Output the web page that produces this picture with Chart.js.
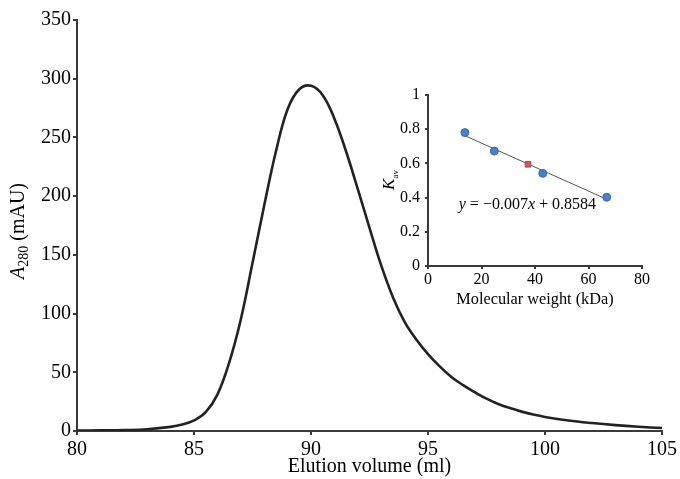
<!DOCTYPE html>
<html lang="en">
<head>
  <meta charset="UTF-8">
  <title>Elution profile</title>
  <script src="https://cdn.jsdelivr.net/npm/chart.js"></script>
  <style>
    body { margin: 0; background: #fff; }
    #wrap { position: relative; width: 680px; height: 479px; }
    #mainChart { position: absolute; left: 0; top: 0; }
    #insetChart { position: absolute; left: 380px; top: 80px; }
  </style>
</head>
<body>
  <div id="wrap">
    <canvas id="mainChart" width="680" height="479"></canvas>
    <canvas id="insetChart" width="290" height="230"></canvas>
  </div>
  <script>
    // elution curve
    const elutionVolume = [80, 81, 82, 83, 84, 84.5, 85, 85.5, 86, 86.5, 87, 87.5, 88, 88.5, 89, 89.5, 90,
      90.5, 91, 91.5, 92, 92.5, 93, 93.5, 94, 94.5, 95, 95.5, 96, 96.5, 97, 97.5, 98, 98.5, 99, 99.5,
      100, 101, 102, 103, 104, 105];
    const absorbance = [0.3, 0.5, 0.8, 1.5, 3.5, 5.5, 9, 16, 31, 58, 95, 143, 192, 238, 274, 291, 294,
      286, 266, 238, 206, 173, 141, 114, 93, 78, 65.5, 55, 46, 39, 33, 27.5, 23, 19.5, 16.5, 14,
      12, 9, 6.8, 5, 3.6, 2.5];

    // inset: calibration standards + sample
    const stdWeight = [13.8, 24.8, 42.9, 66.8];
    const stdKav = [0.78, 0.672, 0.542, 0.402];
    const sampleWeight = [37.4];
    const sampleKav = [0.595];
    const fitWeight = [13.5, 67];
    const fitKav = [0.764, 0.389];

    const serif = 'Liberation Serif';
    const axisColor = '#3a3a3a';

    function toPoints(xs, ys) {
      return xs.map((x, i) => ({ x: x, y: ys[i] }));
    }

    // draws a rotated title like "A280 (mAU)" with italic letter and subscript
    function rotatedTitle(id, cx, cy, main, sub, rest, size, subSize) {
      return {
        id: id,
        afterDraw(chart) {
          const ctx = chart.ctx;
          ctx.save();
          ctx.fillStyle = '#000';
          ctx.textBaseline = 'alphabetic';
          const fMain = 'italic ' + size + 'px ' + serif;
          const fSub = subSize + 'px ' + serif;
          const fRest = size + 'px ' + serif;
          ctx.font = fMain; const w1 = ctx.measureText(main).width;
          ctx.font = fSub; const w2 = ctx.measureText(sub).width;
          ctx.font = fRest; const w3 = ctx.measureText(rest).width;
          const total = w1 + w2 + w3;
          ctx.translate(cx, cy);
          ctx.rotate(-Math.PI / 2);
          let x = -total / 2;
          const base = size * 0.35;
          ctx.font = fMain; ctx.fillText(main, x, base); x += w1;
          ctx.font = fSub; ctx.fillText(sub, x, base + size * 0.22); x += w2;
          ctx.font = fRest; ctx.fillText(rest, x, base);
          ctx.restore();
        }
      };
    }

    new Chart(document.getElementById('mainChart'), {
      type: 'line',
      data: {
        datasets: [{
          data: toPoints(elutionVolume, absorbance),
          borderColor: '#222',
          borderWidth: 2.6,
          pointRadius: 0,
          fill: false,
          tension: 0.4
        }]
      },
      options: {
        responsive: false,
        animation: false,
        layout: { padding: { left: 0, right: 13, top: 20, bottom: 0 } },
        plugins: { legend: { display: false }, tooltip: { enabled: false } },
        scales: {
          x: {
            type: 'linear', min: 80, max: 105,
            afterFit(scale) { scale.height = 48; },
            ticks: { stepSize: 5, color: '#000', font: { family: serif, size: 20 }, padding: 3, maxRotation: 0 },
            grid: { drawOnChartArea: false, tickLength: 4, color: axisColor, lineWidth: 2 },
            border: { color: axisColor, width: 2 },
            title: { display: true, text: 'Elution volume (ml)', color: '#000', font: { family: serif, size: 20 }, padding: { top: 0, bottom: 0 } }
          },
          y: {
            min: 0, max: 350,
            afterFit(scale) { scale.width = 77; },
            ticks: { stepSize: 50, color: '#000', font: { family: serif, size: 20 }, padding: 2 },
            grid: { drawOnChartArea: false, tickLength: 4, color: axisColor, lineWidth: 2 },
            border: { color: axisColor, width: 2 }
          }
        }
      },
      plugins: [rotatedTitle('mainTitle', 17, 231, 'A', '280', ' (mAU)', 20, 14)]
    });

    new Chart(document.getElementById('insetChart'), {
      type: 'scatter',
      data: {
        datasets: [{
          type: 'line',
          data: toPoints(fitWeight, fitKav),
          borderColor: '#555',
          borderWidth: 1,
          pointRadius: 0,
          fill: false,
          order: 3
        }, {
          data: toPoints(stdWeight, stdKav),
          backgroundColor: '#4a80c4',
          borderColor: '#3a6aa8',
          borderWidth: 1,
          pointRadius: 4,
          order: 1
        }, {
          data: toPoints(sampleWeight, sampleKav),
          pointStyle: 'rect',
          backgroundColor: '#c9595a',
          borderColor: '#b04848',
          borderWidth: 1,
          pointRadius: 4,
          order: 2
        }]
      },
      options: {
        responsive: false,
        animation: false,
        layout: { padding: { left: 0, right: 28, top: 15, bottom: 0 } },
        plugins: { legend: { display: false }, tooltip: { enabled: false } },
        scales: {
          x: {
            type: 'linear', min: 0, max: 80,
            afterFit(scale) { scale.height = 44; },
            ticks: { stepSize: 20, color: '#000', font: { family: serif, size: 16 }, padding: 1, maxRotation: 0 },
            grid: { drawOnChartArea: false, tickLength: 3, color: axisColor, lineWidth: 2 },
            border: { color: axisColor, width: 2 },
            title: { display: true, text: 'Molecular weight (kDa)', color: '#000', font: { family: serif, size: 16.3 }, padding: { top: 3, bottom: 0 } }
          },
          y: {
            min: 0, max: 1,
            afterFit(scale) { scale.width = 48; },
            ticks: { stepSize: 0.2, color: '#000', font: { family: serif, size: 16 }, padding: 5,
              callback: v => Number(v.toFixed(1)).toString() },
            grid: { drawOnChartArea: false, tickLength: 3, color: axisColor, lineWidth: 2 },
            border: { color: axisColor, width: 2 }
          }
        }
      },
      plugins: [
        rotatedTitle('kavTitle', 8, 100, 'K', 'av', '', 17, 9),
        {
          id: 'equation',
          afterDraw(chart) {
            const ctx = chart.ctx;
            const parts = [['y', true], [' = \u22120.007', false], ['x', true], [' + 0.8584', false]];
            ctx.save();
            ctx.fillStyle = '#000';
            ctx.textBaseline = 'middle';
            let x = chart.scales.x.getPixelForValue(11.5);
            const y = chart.scales.y.getPixelForValue(0.355);
            parts.forEach(p => {
              ctx.font = (p[1] ? 'italic ' : '') + '16px ' + serif;
              ctx.fillText(p[0], x, y);
              x += ctx.measureText(p[0]).width;
            });
            ctx.restore();
          }
        }
      ]
    });
  </script>
</body>
</html>
